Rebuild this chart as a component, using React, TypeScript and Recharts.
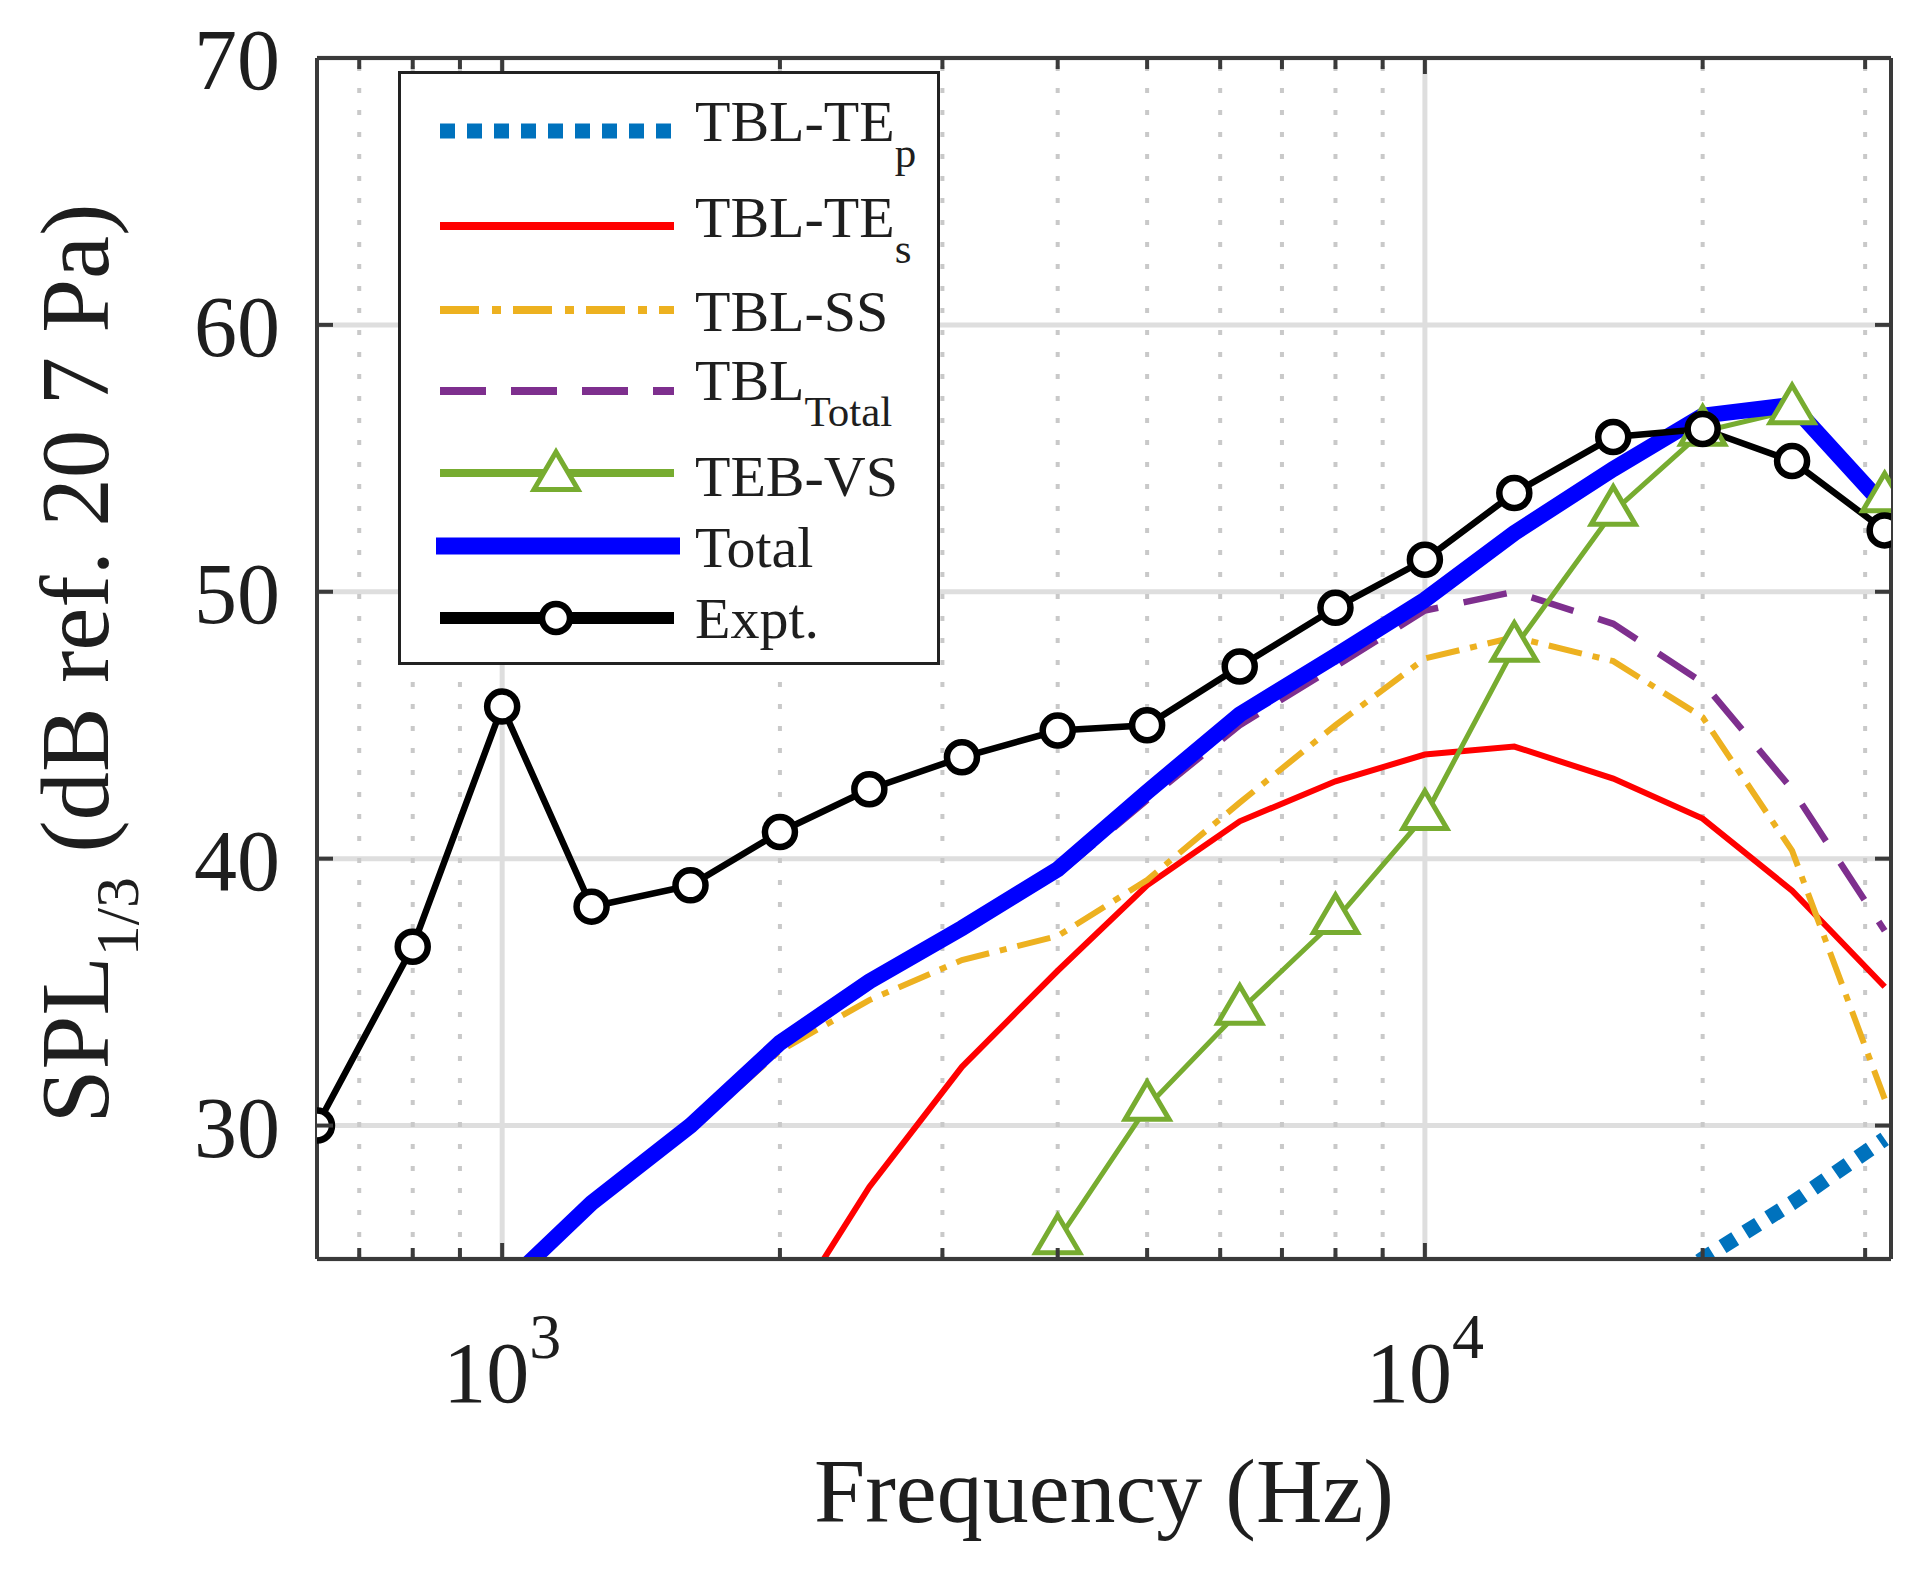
import React from "react";
import {
  LineChart,
  Line,
  XAxis,
  YAxis,
  CartesianGrid,
  ReferenceLine,
  Legend,
} from "recharts";

// 1/3-octave band centre frequencies (Hz)
const FREQ = [630, 800, 1000, 1250, 1600, 2000, 2500, 3150, 4000, 5000, 6300, 8000, 10000, 12500, 16000, 20000, 25000, 31500];

// SPL values (dB), aligned with FREQ; null = not plotted
const TBL_TE_P = [null, null, null, null, null, null, null, null, null, null, null, null, null, null, 22.5, 25.0, 27.1, 29.5];
const TBL_TE_S = [null, null, null, null, null, 22.4, 27.7, 32.2, 35.8, 39.0, 41.4, 42.9, 43.9, 44.2, 43.0, 41.5, 38.8, 35.2];
const TBL_SS = [null, null, 23.7, 26.9, 29.8, 32.8, 34.7, 36.2, 37.1, 39.2, 42.1, 45.0, 47.5, 48.3, 47.4, 45.3, 40.3, 31.0];
const TBL_TOTAL = [null, null, 23.8, 27.0, 29.9, 32.9, 35.3, 37.3, 39.4, 42.2, 45.0, 47.2, 49.3, 50.0, 48.8, 46.6, 42.6, 37.3];
const TEB_VS = [null, null, null, null, null, null, null, null, 25.7, 30.7, 34.3, 37.7, 41.6, 47.9, 53.0, 56.0, 56.8, 53.5];
const TOTAL = [null, null, 23.9, 27.1, 30.0, 33.1, 35.4, 37.4, 39.6, 42.5, 45.4, 47.6, 49.7, 52.2, 54.6, 56.6, 57.0, 53.2];
const EXPT = [30.0, 36.7, 45.7, 38.2, 39.0, 41.0, 42.6, 43.8, 44.8, 45.0, 47.2, 49.4, 51.2, 53.7, 55.8, 56.1, 54.9, 52.3];

const X_MAJOR = [1000, 10000];
const X_MINOR = [700, 800, 900, 2000, 3000, 4000, 5000, 6000, 7000, 8000, 9000, 20000, 30000];
const Y_TICKS = [30, 40, 50, 60, 70];

const data = FREQ.map((f, i) => ({
  f,
  tep: TBL_TE_P[i],
  tes: TBL_TE_S[i],
  ss: TBL_SS[i],
  tbl: TBL_TOTAL[i],
  teb: TEB_VS[i],
  total: TOTAL[i],
  expt: EXPT[i],
}));

const FONT = "'Liberation Serif', 'Times New Roman', serif";
const INK = "#1e1e1e";
const AXIS = "#3a3a3a";
const GRID = "#dedede";

const C_TEP = "#0072BD";
const C_TES = "#ff0000";
const C_SS = "#EDB120";
const C_TBL = "#7E2F8E";
const C_TEB = "#77AC30";
const C_TOTAL = "#0000ff";

function Triangle({ cx, cy }: { cx: number; cy: number }) {
  return (
    <polygon
      points={`${cx},${cy - 25} ${cx - 22},${cy + 12.5} ${cx + 22},${cy + 12.5}`}
      fill="#fff"
      stroke={C_TEB}
      strokeWidth={5}
    />
  );
}

const triangleDot = (p: any) => {
  if (p.value == null || p.cx == null || p.cy == null) return <g key={p.key} />;
  return (
    <g key={p.key}>
      <Triangle cx={p.cx} cy={p.cy} />
    </g>
  );
};

function BottomTick(props: any) {
  const { x, y, payload } = props;
  const major = X_MAJOR.includes(payload.value);
  const exp = Math.round(Math.log10(payload.value));
  return (
    <g>
      <line x1={x} x2={x} y1={y} y2={y - (major ? 16 : 11)} stroke={AXIS} strokeWidth={4} />
      {major && (
        <text x={x} y={y + 143} textAnchor="middle" fontFamily={FONT} fontSize={86} fill={INK}>
          10
          <tspan dy={-44} fontSize={64}>
            {exp}
          </tspan>
        </text>
      )}
    </g>
  );
}

function TopTick(props: any) {
  const { x, y, payload } = props;
  const major = X_MAJOR.includes(payload.value);
  return <line x1={x} x2={x} y1={y} y2={y + (major ? 16 : 11)} stroke={AXIS} strokeWidth={4} />;
}

function LeftTick(props: any) {
  const { x, y, payload } = props;
  return (
    <g>
      <line x1={x} x2={x + 16} y1={y} y2={y} stroke={AXIS} strokeWidth={4} />
      <text x={x - 37} y={y + 31} textAnchor="end" fontFamily={FONT} fontSize={86} fill={INK}>
        {payload.value}
      </text>
    </g>
  );
}

function RightTick(props: any) {
  const { x, y } = props;
  return <line x1={x} x2={x - 16} y1={y} y2={y} stroke={AXIS} strokeWidth={4} />;
}

function YLabel(props: any) {
  const { viewBox } = props;
  const x = 108;
  const cy = viewBox.y + viewBox.height / 2 + 5;
  return (
    <text
      x={x}
      y={cy}
      transform={`rotate(-90 ${x} ${cy})`}
      textAnchor="middle"
      fontFamily={FONT}
      fontSize={97}
      fill={INK}
    >
      SPL
      <tspan fontSize={62} dy={30}>
        1/3
      </tspan>
      <tspan dy={-30}>{" (dB ref. 20 7 Pa)"}</tspan>
    </text>
  );
}

function XLabel(props: any) {
  const { viewBox } = props;
  return (
    <text
      x={viewBox.x + viewBox.width / 2}
      y={viewBox.y + 263}
      textAnchor="middle"
      fontFamily={FONT}
      fontSize={92}
      fill={INK}
    >
      Frequency (Hz)
    </text>
  );
}

const LEGEND_ROWS = [
  { label: "TBL-TE", sub: "p" },
  { label: "TBL-TE", sub: "s" },
  { label: "TBL-SS", sub: "" },
  { label: "TBL", sub: "Total" },
  { label: "TEB-VS", sub: "" },
  { label: "Total", sub: "" },
  { label: "Expt.", sub: "" },
];

function renderLegend() {
  const rowY = [60, 155, 239, 320, 402, 475, 547];
  const textY = [70, 166, 260, 329, 425, 496, 567];
  const x1 = 42;
  const x2 = 276;
  const mx = 158;
  return (
    <svg width={542} height={594} style={{ display: "block" }}>
      <rect x={1.5} y={1.5} width={539} height={591} fill="#fff" stroke="#222" strokeWidth={3} />
      <line x1={x1} x2={x2} y1={rowY[0]} y2={rowY[0]} stroke={C_TEP} strokeWidth={15} strokeDasharray="15 12" />
      <line x1={x1} x2={x2} y1={rowY[1]} y2={rowY[1]} stroke={C_TES} strokeWidth={8} />
      <line x1={x1} x2={x2} y1={rowY[2]} y2={rowY[2]} stroke={C_SS} strokeWidth={8} strokeDasharray="39 13 9 12" />
      <line x1={x1} x2={x2} y1={rowY[3]} y2={rowY[3]} stroke={C_TBL} strokeWidth={8} strokeDasharray="46 25" />
      <line x1={x1} x2={x2} y1={rowY[4]} y2={rowY[4]} stroke={C_TEB} strokeWidth={8} />
      <Triangle cx={mx} cy={rowY[4] + 4} />
      <line x1={x1 - 4} x2={x2 + 6} y1={rowY[5]} y2={rowY[5]} stroke={C_TOTAL} strokeWidth={17} />
      <line x1={x1} x2={x2} y1={rowY[6]} y2={rowY[6]} stroke="#000" strokeWidth={12} />
      <circle cx={mx} cy={rowY[6]} r={14} fill="#fff" stroke="#000" strokeWidth={6.5} />
      {LEGEND_ROWS.map((r, i) => (
        <text key={i} x={297} y={textY[i]} fontFamily={FONT} fontSize={58} fill={INK}>
          {r.label}
          {r.sub && (
            <tspan fontSize={43} dy={26}>
              {r.sub}
            </tspan>
          )}
        </text>
      ))}
    </svg>
  );
}

export default function App() {
  const xTicks = [...X_MINOR, ...X_MAJOR].sort((a, b) => a - b);
  return (
    <div style={{ width: 1928, height: 1570, background: "#fff" }}>
      <style>{"body{margin:0}"}</style>
      <LineChart
        width={1928}
        height={1570}
        data={data}
        margin={{ top: 57, right: 36, bottom: 111, left: 117 }}
      >
        <CartesianGrid vertical={false} stroke={GRID} strokeWidth={5} />
        {X_MINOR.map((v) => (
          <ReferenceLine key={`m${v}`} x={v} stroke="#c9c9c9" strokeWidth={4} strokeDasharray="5 17" />
        ))}
        {X_MAJOR.map((v) => (
          <ReferenceLine key={`M${v}`} x={v} stroke={GRID} strokeWidth={5} />
        ))}
        <XAxis
          dataKey="f"
          type="number"
          scale="log"
          domain={[630, 32000]}
          allowDataOverflow
          ticks={xTicks}
          interval={0}
          tickSize={0}
          tickMargin={0}
          tickLine={false}
          tick={<BottomTick />}
          height={200}
          axisLine={{ stroke: AXIS, strokeWidth: 4 }}
          label={<XLabel />}
        />
        <XAxis
          xAxisId="top"
          orientation="top"
          dataKey="f"
          type="number"
          scale="log"
          domain={[630, 32000]}
          allowDataOverflow
          ticks={xTicks}
          interval={0}
          tickSize={0}
          tickMargin={0}
          tickLine={false}
          tick={<TopTick />}
          height={1}
          axisLine={{ stroke: AXIS, strokeWidth: 4 }}
        />
        <YAxis
          type="number"
          domain={[25, 70]}
          allowDataOverflow
          ticks={Y_TICKS}
          interval={0}
          tickSize={0}
          tickMargin={0}
          tickLine={false}
          tick={<LeftTick />}
          width={200}
          axisLine={{ stroke: AXIS, strokeWidth: 4 }}
          label={<YLabel />}
        />
        <YAxis
          yAxisId="right"
          orientation="right"
          type="number"
          domain={[25, 70]}
          allowDataOverflow
          ticks={Y_TICKS}
          interval={0}
          tickSize={0}
          tickMargin={0}
          tickLine={false}
          tick={<RightTick />}
          width={1}
          axisLine={{ stroke: AXIS, strokeWidth: 4 }}
        />
        <Legend
          layout="vertical"
          align="center"
          verticalAlign="middle"
          content={renderLegend}
          wrapperStyle={{ left: 398, top: 71, width: 542, height: 594 }}
        />
        <Line dataKey="tep" name="TBL-TEp" stroke={C_TEP} strokeWidth={15} strokeDasharray="15 12" dot={false} isAnimationActive={false} />
        <Line dataKey="tes" name="TBL-TEs" stroke={C_TES} strokeWidth={6} dot={false} isAnimationActive={false} />
        <Line dataKey="ss" name="TBL-SS" stroke={C_SS} strokeWidth={6} strokeDasharray="34 11 7 11" dot={false} isAnimationActive={false} />
        <Line dataKey="tbl" name="TBL Total" stroke={C_TBL} strokeWidth={6.5} strokeDasharray="44 26" dot={false} isAnimationActive={false} />
        <Line dataKey="teb" name="TEB-VS" stroke={C_TEB} strokeWidth={5} dot={triangleDot} isAnimationActive={false} />
        <Line dataKey="total" name="Total" stroke={C_TOTAL} strokeWidth={16} strokeLinejoin="miter" dot={false} isAnimationActive={false} />
        <Line
          dataKey="expt"
          name="Expt."
          stroke="#000"
          strokeWidth={6.5}
          dot={{ r: 15, fill: "#fff", stroke: "#000", strokeWidth: 6.5 }}
          isAnimationActive={false}
        />
      </LineChart>
    </div>
  );
}
